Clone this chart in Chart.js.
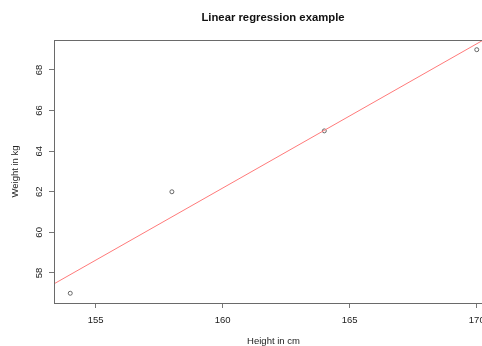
<!DOCTYPE html>
<html>
<head>
<meta charset="utf-8">
<script src="https://cdn.jsdelivr.net/npm/chart.js@4"></script>
<style>
  html, body { margin: 0; padding: 0; background: #fff; overflow: hidden; }
  #wrap { width: 546px; height: 352px; }
</style>
</head>
<body>
<div id="wrap"><canvas id="regChart" width="546" height="352"></canvas></div>
<script>
// Observed data
const heights = [154, 158, 164, 170];
const weights = [57, 62, 65, 69];

// Tick labels
const xTicks = [155, 160, 165, 170];
const yTicks = [58, 60, 62, 64, 66, 68];

// Axis ranges like R: data range plus 4% on each side
const xMin = Math.min(...heights) - 0.04 * (Math.max(...heights) - Math.min(...heights));
const xMax = Math.max(...heights) + 0.04 * (Math.max(...heights) - Math.min(...heights));
const yMin = Math.min(...weights) - 0.04 * (Math.max(...weights) - Math.min(...weights));
const yMax = Math.max(...weights) + 0.04 * (Math.max(...weights) - Math.min(...weights));

// Least squares fit (lm(weight ~ height))
function leastSquares(xs, ys) {
    const mx = xs.reduce((s, v) => s + v, 0) / xs.length;
    const my = ys.reduce((s, v) => s + v, 0) / ys.length;
    let sxy = 0, sxx = 0;
    xs.forEach((x, i) => {
        sxy += (x - mx) * (ys[i] - my);
        sxx += (x - mx) * (x - mx);
    });
    const slope = sxy / sxx;
    return { slope: slope, intercept: my - slope * mx };
}
const fit = leastSquares(heights, weights);

Chart.defaults.font.family = '"Liberation Sans", Arial, Helvetica, sans-serif';
Chart.defaults.color = '#222';

// Draws the box around the plot region
const framePlugin = {
    id: 'frame',
    afterDraw(chart) {
        const { ctx, chartArea: a } = chart;
        ctx.save();
        ctx.strokeStyle = '#6a6a6a';
        ctx.lineWidth = 1;
        ctx.strokeRect(Math.round(a.left) + 0.5, Math.round(a.top) + 0.5,
            Math.round(a.right - a.left), Math.round(a.bottom - a.top));
        ctx.restore();
    }
};

const ctx = document.getElementById('regChart').getContext('2d');

new Chart(ctx, {
    type: 'scatter',
    data: {
        datasets: [{
            label: 'Observations',
            data: heights.map((h, i) => ({ x: h, y: weights[i] })),
            pointStyle: 'circle',
            pointRadius: 2,
            pointBorderWidth: 1,
            pointBorderColor: '#666',
            pointBackgroundColor: 'rgba(0,0,0,0)',
            order: 2
        }, {
            type: 'line',
            label: 'Fit',
            data: [xMin, xMax].map(x => ({ x: x, y: fit.intercept + fit.slope * x })),
            borderColor: '#ff7a7a',
            borderWidth: 1,
            pointRadius: 0,
            fill: false,
            order: 1
        }]
    },
    options: {
        responsive: false,
        animation: false,
        layout: { padding: 0 },
        plugins: {
            legend: { display: false },
            tooltip: { enabled: false },
            title: {
                display: true,
                text: 'Linear regression example',
                color: '#111',
                font: { size: 11.3, weight: 'bold' },
                padding: { top: 10.9, bottom: 15.5 }
            }
        },
        scales: {
            x: {
                type: 'linear',
                position: 'bottom',
                min: xMin,
                max: xMax,
                afterBuildTicks: scale => { scale.ticks = xTicks.map(v => ({ value: v })); },
                afterFit: scale => { scale.height = 49; },
                border: { display: false },
                grid: { drawOnChartArea: false, drawTicks: true, tickLength: 5, color: '#777' },
                ticks: { font: { size: 9.5 }, color: '#222', padding: 6.7, maxRotation: 0 },
                title: {
                    display: true,
                    text: 'Height in cm',
                    color: '#222',
                    font: { size: 9.5 },
                    padding: { top: 0, bottom: 4.6 }
                }
            },
            y: {
                type: 'linear',
                position: 'left',
                min: yMin,
                max: yMax,
                afterBuildTicks: scale => { scale.ticks = yTicks.map(v => ({ value: v })); },
                afterFit: scale => { scale.width = 54; },
                border: { display: false },
                grid: { drawOnChartArea: false, drawTicks: true, tickLength: 5, color: '#777' },
                ticks: {
                    font: { size: 9.5 },
                    color: '#222',
                    minRotation: 90,
                    maxRotation: 90,
                    crossAlign: 'center',
                    padding: 4.3
                },
                title: {
                    display: true,
                    text: 'Weight in kg',
                    color: '#222',
                    font: { size: 9.5 },
                    padding: { top: 9.8, bottom: 0 }
                }
            },
            // empty right margin, like R's mar on the right side
            yRight: {
                type: 'linear',
                position: 'right',
                display: true,
                afterFit: scale => { scale.width = 53; },
                border: { display: false },
                grid: { display: false },
                ticks: { display: false }
            }
        }
    },
    plugins: [framePlugin]
});
</script>
</body>
</html>
